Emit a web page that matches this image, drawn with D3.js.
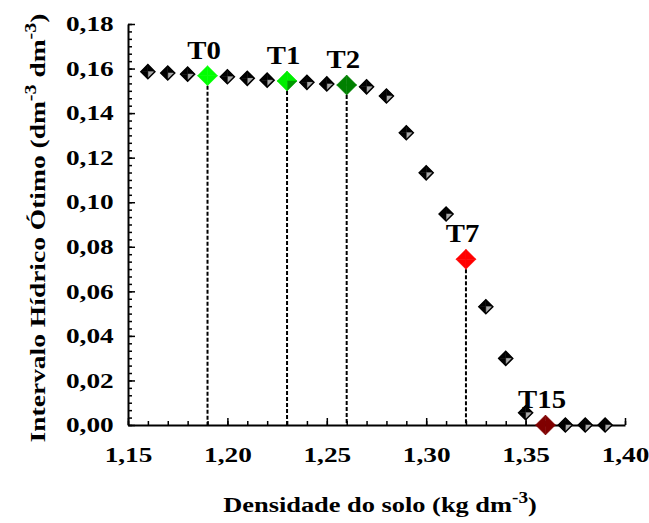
<!DOCTYPE html>
<meta charset="utf-8">
<style>
body { margin: 0; background: #fff; }
</style>
<svg width="649" height="523"></svg>
<script src="https://cdn.jsdelivr.net/npm/d3@7"></script>
<script>

// soil density (kg dm-3) and IHO (dm3 dm-3)
var density = [1.16, 1.17, 1.18, 1.20, 1.21, 1.22, 1.24, 1.25, 1.27, 1.28, 1.29,
               1.30, 1.31, 1.33, 1.34, 1.35, 1.37, 1.38, 1.39];
var iho = [0.1586, 0.1580, 0.1575, 0.1563, 0.1556, 0.1548, 0.1538, 0.1531, 0.1518, 0.1477, 0.1312,
           0.1132, 0.0947, 0.0531, 0.0299, 0.0055, 0, 0, 0];

// highlighted treatments
var treatments = ["T0", "T1", "T2", "T7", "T15"];
var treatDensity = [1.19, 1.23, 1.26, 1.32, 1.36];
var treatIho = [0.1568, 0.1544, 0.1526, 0.0744, 0];

var xTicks = [1.15, 1.20, 1.25, 1.30, 1.35, 1.40];
var yTicks = [0, 0.02, 0.04, 0.06, 0.08, 0.10, 0.12, 0.14, 0.16, 0.18];

var colors = {
  T0: ["#00ff00", "#00ff00"],
  T1: ["#00ee00", "#009a00"],
  T2: ["#008000", "#008000"],
  T7: ["#ff0000", "#ff0000"],
  T15: ["#800000", "#800000"]
};

var serif = "'Liberation Serif', 'Times New Roman', Times, serif";

var svg = d3.select("svg"),
    margin = {top: 24, right: 24, bottom: 98, left: 128},
    width = +svg.attr("width") - margin.left - margin.right,
    height = +svg.attr("height") - margin.top - margin.bottom,
    g = svg.append("g").attr("transform", "translate(" + margin.left + "," + margin.top + ")");

var x = d3.scaleLinear().domain([1.15, 1.40]).range([0, width]);
var y = d3.scaleLinear().domain([0, 0.18]).range([height, 0]);

var fmt = function(d, n) { return d.toFixed(n).replace(".", ","); };
var sx = 1.3;

// minor ticks
g.append("g")
    .attr("transform", "translate(0," + height + ")")
    .call(d3.axisBottom(x).tickValues(d3.range(1.15, 1.405, 0.01)).tickSize(-4).tickSizeOuter(0).tickFormat(""))
    .call(function(a) { a.select(".domain").remove(); a.selectAll("line").attr("stroke-width", 1.5); });
g.append("g")
    .call(d3.axisLeft(y).tickValues(d3.range(0, 0.1801, 0.02 / 6)).tickSize(-4).tickSizeOuter(0).tickFormat(""))
    .call(function(a) { a.select(".domain").remove(); a.selectAll("line").attr("stroke-width", 1.5); });

// major axes
var xAxis = g.append("g")
    .attr("transform", "translate(0," + height + ")")
    .call(d3.axisBottom(x).tickValues(xTicks).tickSize(-7).tickSizeOuter(0).tickPadding(22)
      .tickFormat(function(d) { return fmt(d, 2); }));
var yAxis = g.append("g")
    .call(d3.axisLeft(y).tickValues(yTicks).tickSize(-7).tickSizeOuter(0).tickPadding(11)
      .tickFormat(function(d) { return fmt(d, 2); }));

[xAxis, yAxis].forEach(function(a) {
  a.attr("font-size", null).attr("font-family", null);
  a.select(".domain").attr("stroke-width", 2);
  a.selectAll("line").attr("stroke-width", 1.5);
  a.selectAll("text")
      .attr("fill", "#000")
      .style("font-family", serif)
      .style("font-weight", "bold")
      .style("font-size", "21px")
      .attr("transform", "scale(" + sx + ",1)");
});

// dashed drop lines
g.append("g").selectAll("line")
  .data(treatments.slice(0, 4))
  .enter().append("line")
    .attr("x1", function(d, i) { return x(treatDensity[i]); })
    .attr("x2", function(d, i) { return x(treatDensity[i]); })
    .attr("y1", function(d, i) { return y(treatIho[i]) + 10; })
    .attr("y2", height)
    .attr("stroke", "#000")
    .attr("stroke-width", 2)
    .attr("stroke-dasharray", "4,2");

// diamond marker made of four triangles
function diamond(sel, rx, ry, c1, c2) {
  var parts = [
    [[-rx, 0], [0, -ry], [0, 0], c1],
    [[0, -ry], [rx, 0], [0, 0], c1],
    [[rx, 0], [0, ry], [0, 0], c2],
    [[0, ry], [-rx, 0], [0, 0], c1]
  ];
  parts.forEach(function(p) {
    sel.append("path")
        .attr("d", "M" + p[0] + "L" + p[1] + "L" + p[2] + "Z")
        .attr("fill", p[3])
        .attr("stroke", p[3])
        .attr("stroke-width", 0.5);
  });
}

var pts = g.append("g").selectAll("g")
  .data(density)
  .enter().append("g")
    .attr("transform", function(d, i) { return "translate(" + x(d) + "," + y(iho[i]) + ")"; });
pts.each(function() {
  var s = d3.select(this);
  diamond(s, 7, 7, "#000", "#aaa");
  s.append("path").attr("d", "M-7,0L0,-7L7,0L0,7Z")
      .attr("fill", "none").attr("stroke", "#000").attr("stroke-width", 1.5);
});

var tr = g.append("g").selectAll("g")
  .data(treatments)
  .enter().append("g")
    .attr("transform", function(d, i) { return "translate(" + x(treatDensity[i]) + "," + y(treatIho[i]) + ")"; });
tr.each(function(d) {
  diamond(d3.select(this), 10, 10, colors[d][0], colors[d][1]);
});
tr.append("text")
    .attr("x", -3)
    .attr("y", -17)
    .attr("text-anchor", "middle")
    .style("font-family", serif)
    .style("font-weight", "bold")
    .style("font-size", "25px")
    .attr("transform", "scale(1.15,1)")
    .text(function(d) { return d; });

// axis titles
var xt = svg.append("text")
    .attr("text-anchor", "middle")
    .attr("transform", "translate(380,512) scale(1.2,1)")
    .style("font-family", serif)
    .style("font-weight", "bold")
    .style("font-size", "22px");
xt.append("tspan").text("Densidade do solo (kg dm");
xt.append("tspan").attr("dy", -9).style("font-size", "16px").text("-3");
xt.append("tspan").attr("dy", 9).text(")");

var yt = svg.append("text")
    .attr("text-anchor", "middle")
    .attr("transform", "translate(45,228) rotate(-90) scale(1.25,1)")
    .style("font-family", serif)
    .style("font-weight", "bold")
    .style("font-size", "22px");
yt.append("tspan").text("Intervalo Hídrico Ótimo (dm");
yt.append("tspan").attr("dy", -9).style("font-size", "16px").text("-3");
yt.append("tspan").attr("dy", 9).text(" dm");
yt.append("tspan").attr("dy", -9).style("font-size", "16px").text("-3");
yt.append("tspan").attr("dy", 9).text(")");

</script>
